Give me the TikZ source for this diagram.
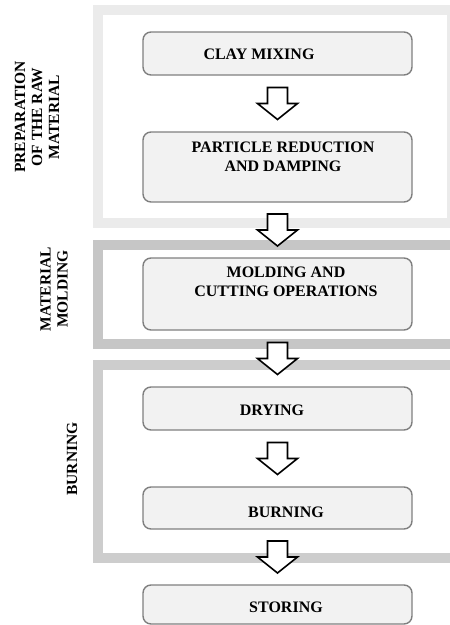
\documentclass[tikz,border=0pt]{standalone}
\usepackage{fontspec}
\setmainfont{Liberation Serif}
\usepackage{tikz}
\usetikzlibrary{calc}
\usepackage{xcolor}

\definecolor{boxgray}{HTML}{F2F2F2}
\definecolor{boxline}{HTML}{7F7F7F}
\definecolor{frameA}{HTML}{EBEBEB}
\definecolor{frameB}{HTML}{C6C6C6}
\definecolor{frameC}{HTML}{CDCDCD}

\tikzset{
    stage/.style={draw=boxline, fill=boxgray, line width=1.4pt, rounded corners=8pt,
        minimum width=269pt, inner sep=0pt},
    stagetext/.style={font=\bfseries\fontsize{16}{19.5}\selectfont, align=center, inner sep=0pt},
    sidetext/.style={font=\bfseries\fontsize{15.5}{17}\selectfont, align=center, rotate=90, inner sep=0pt},
    phase/.style={line width=10pt},
    hollow/.style={draw=black, fill=white, line width=1.6pt, line join=miter}
}

% hollow block arrow half way between two stages
\newcommand{\flowarrow}[2]{%
    \coordinate (mid) at ($(#1.south)!0.5!(#2.north)$);
    \draw[hollow] ($(mid)+(-10,-16)$) -- ($(mid)+(10,-16)$) -- ($(mid)+(10,0)$) -- ($(mid)+(20,0)$)
        -- ($(mid)+(0,16)$) -- ($(mid)+(-20,0)$) -- ($(mid)+(-10,0)$) -- cycle;}

\begin{document}
\begin{tikzpicture}[x=1pt, y=-1pt]
    \useasboundingbox (0,0) rectangle (450,625);
    \clip (0,0) rectangle (450,625);

    % Phase frames
    \draw[phase, frameA] (98,10) rectangle (452,222.5);
    \draw[phase, frameB] (98,245) rectangle (470,344);
    \draw[phase, frameC] (98,365) rectangle (470,558);

    % Stages
    \node[stage, minimum height=43pt] (mix) at (277.5,53.5) {};
    \node[stage, minimum height=70pt] (part) at (277.5,167) {};
    \node[stage, minimum height=72pt] (mold) at (277.5,294) {};
    \node[stage, minimum height=43pt] (dry) at (277.5,408.5) {};
    \node[stage, minimum height=42pt] (burn) at (277.5,508) {};
    \node[stage, minimum height=39pt] (store) at (277.5,604.5) {};

    \node[stagetext] (mix-t) at (259,54) {CLAY MIXING};
    \node[stagetext] (part-t) at (283,157) {PARTICLE REDUCTION\\AND DAMPING};
    \node[stagetext] (mold-t) at (286,282) {MOLDING AND\\CUTTING OPERATIONS};
    \node[stagetext] (dry-t) at (272,410) {DRYING};
    \node[stagetext] (burn-t) at (286,512) {BURNING};
    \node[stagetext] (store-t) at (286,607) {STORING};

    % Arrows
    \flowarrow{mix}{part}
    \flowarrow{part}{mold}
    \flowarrow{mold}{dry}
    \flowarrow{dry}{burn}
    \flowarrow{burn}{store}

    % Phase labels
    \node[sidetext] (prep-l) at (37,117) {PREPARATION\\OF THE RAW\\MATERIAL};
    \node[sidetext] (mold-l) at (54,289) {MATERIAL\\MOLDING};
    \node[sidetext] (burn-l) at (72,459) {BURNING};
\end{tikzpicture}
\end{document}
